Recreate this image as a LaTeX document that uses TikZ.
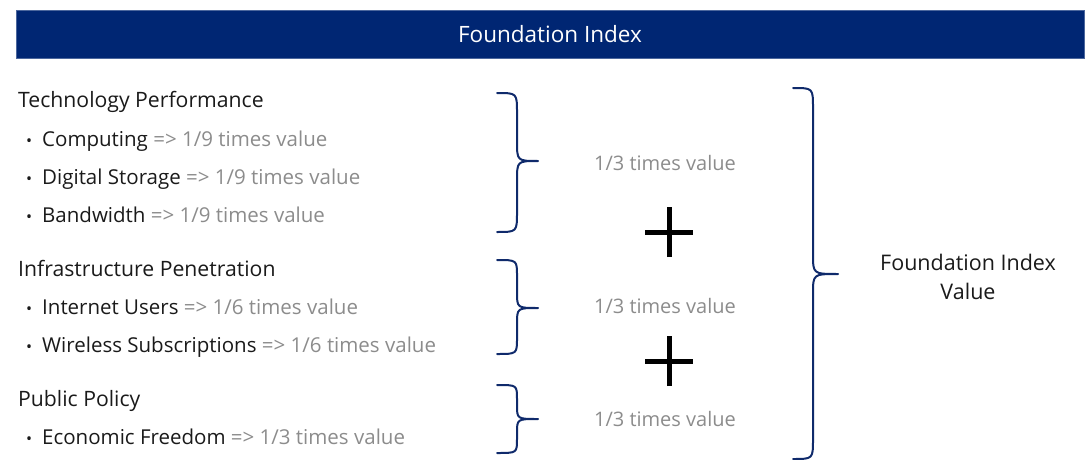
\documentclass[tikz,border=0pt]{standalone}
\usepackage{fontspec}
\setmainfont{Open Sans}
\definecolor{navy}{HTML}{002673}
\definecolor{bracec}{HTML}{0F2A6B}
\definecolor{graytxt}{HTML}{8C8C8C}
\definecolor{blk}{HTML}{1A1A1A}
\newcommand{\mybrace}[7]{% x0 x1 x2 ytop ymid ybot r
  \draw[bracestyle] (#1,#4) .. controls (#2,#4) and (#2,#4) .. (#2,#4+#7)
    -- (#2,#5-#7) .. controls (#2,#5) and (#2,#5) .. (#3,#5)
    .. controls (#2,#5) and (#2,#5) .. (#2,#5+#7)
    -- (#2,#6-#7) .. controls (#2,#6) and (#2,#6) .. (#1,#6);}
\tikzset{
  bracestyle/.style={draw=bracec, line width=2pt, line join=round, line cap=round},
  head/.style={anchor=base west, text=blk, font=\fontsize{21.2}{24}\selectfont, inner sep=0},
  item/.style={anchor=base west, text=blk, font=\fontsize{20.5}{24}\selectfont, inner sep=0},
  bul/.style={anchor=base west, text=blk, font=\fontsize{16}{18}\selectfont, inner sep=0},
  val/.style={anchor=base, text=graytxt, font=\fontsize{20}{24}\selectfont, inner sep=0},
  plusline/.style={draw=black, line width=5pt},
}
\newcommand{\gr}[1]{\textcolor{graytxt}{#1}}
\begin{document}
\begin{tikzpicture}[x=1pt,y=-1pt]
\useasboundingbox (0,0) rectangle (1087,460);
% header bar
\node[draw=navy!70, fill=navy, minimum width=1068pt, minimum height=48pt, inner sep=0,
  text=white, font=\fontsize{22.5}{26}\selectfont] (hdr) at (550,34) {Foundation Index};
% left texts
\node[head] (tp) at (18,107) {Technology Performance};
\node[bul] (b1) at (26,146) {•};
\node[item] (t1) at (42,146) {Computing \gr{=> 1/9 times value}};
\node[bul] (b2) at (26,184) {•};
\node[item] (t2) at (42,184) {Digital Storage \gr{=> 1/9 times value}};
\node[bul] (b3) at (26,222) {•};
\node[item] (t3) at (42,222) {Bandwidth \gr{=> 1/9 times value}};
\node[head] (ip) at (18,276) {Infrastructure Penetration};
\node[bul] (b4) at (26,314) {•};
\node[item] (t4) at (42,314) {Internet Users \gr{=> 1/6 times value}};
\node[bul] (b5) at (26,352) {•};
\node[item] (t5) at (42,352) {Wireless Subscriptions \gr{=> 1/6 times value}};
\node[head] (pp) at (18,406) {Public Policy};
\node[bul] (b6) at (26,444) {•};
\node[item] (t6) at (42,444) {Economic Freedom \gr{=> 1/3 times value}};
% braces
\mybrace{497}{517}{538}{93}{161}{232}{20}
\mybrace{497}{517}{538}{260}{308}{354}{16}
\mybrace{497}{517}{538}{385}{419}{453}{14}
\mybrace{793}{813}{838}{88}{274}{459}{20}
% values
\node[val] (v1) at (665,170) {1/3 times value};
\node[val] (v2) at (665,313) {1/3 times value};
\node[val] (v3) at (665,426) {1/3 times value};
% plus signs
\coordinate (p1) at (669,232);
\coordinate (p2) at (669,361);
\draw[plusline] ([xshift=-24pt]p1) -- ([xshift=24pt]p1);
\draw[plusline] ([yshift=-25pt]p1) -- ([yshift=25pt]p1);
\draw[plusline] ([xshift=-24pt]p2) -- ([xshift=24pt]p2);
\draw[plusline] ([yshift=-25pt]p2) -- ([yshift=25pt]p2);
% result
\node[align=center, text=blk, font=\fontsize{21.5}{29}\selectfont, inner sep=0] (res) at (968,277) {Foundation Index\\Value};
\end{tikzpicture}
\end{document}
